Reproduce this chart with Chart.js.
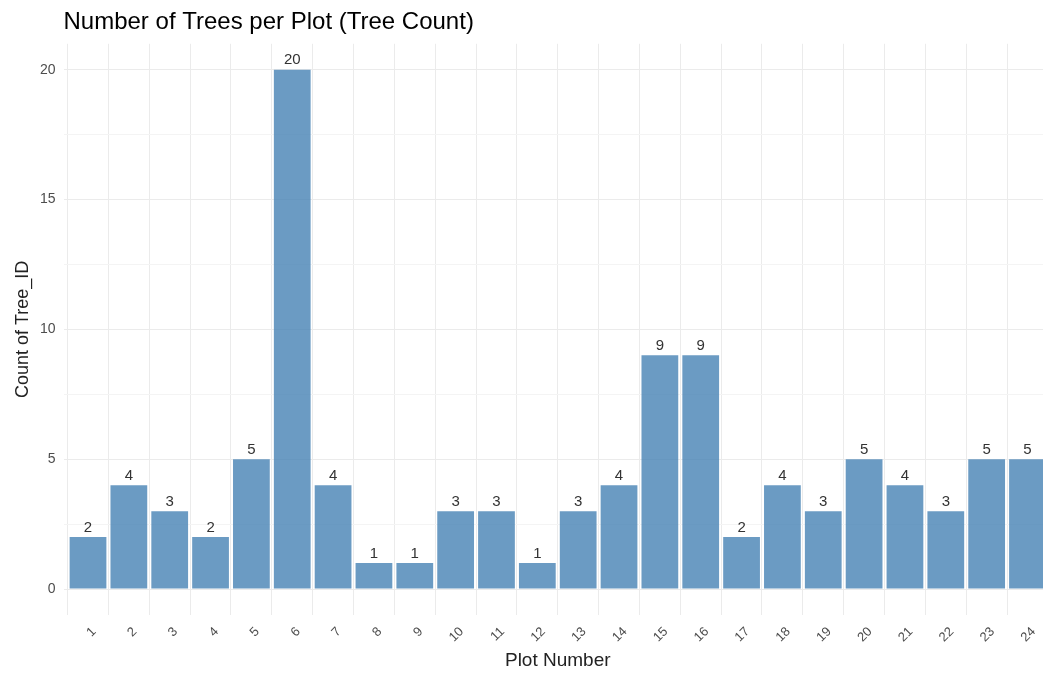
<!DOCTYPE html>
<html>
<head>
<meta charset="utf-8">
<script src="https://cdn.jsdelivr.net/npm/chart.js@4.4.1/dist/chart.umd.min.js"></script>
<style>
  html, body { margin: 0; padding: 0; background: #ffffff; overflow: hidden; }
  #wrap { position: relative; width: 1053px; height: 675px; }
</style>
</head>
<body>
<div id="wrap"><canvas id="c"></canvas></div>
<script>
// ---- data ----
const plotNumbers = [1,2,3,4,5,6,7,8,9,10,11,12,13,14,15,16,17,18,19,20,21,22,23,24];
const treeCounts  = [2,4,3,2,5,20,4,1,1,3,3,1,3,4,9,9,2,4,3,5,4,3,5,5];
const yTickValues = [0, 2.5, 5, 7.5, 10, 12.5, 15, 17.5, 20];
const yTickLabels = ['0', '', '5', '', '10', '', '15', '', '20'];

const FONT = "'Liberation Sans', Arial, sans-serif";

const valueLabels = {
  id: 'valueLabels',
  afterDatasetsDraw(chart) {
    const ctx = chart.ctx;
    const meta = chart.getDatasetMeta(0);
    ctx.save();
    ctx.font = "15px " + FONT;
    ctx.fillStyle = '#333333';
    ctx.textAlign = 'center';
    ctx.textBaseline = 'bottom';
    meta.data.forEach((bar, i) => {
      ctx.fillText(String(treeCounts[i]), bar.x, bar.y - 2);
    });
    ctx.restore();
  }
};

new Chart(document.getElementById('c'), {
  type: 'bar',
  data: {
    datasets: [{
      data: plotNumbers.map((p, i) => ({ x: p, y: treeCounts[i] })),
      backgroundColor: 'rgba(70,130,180,0.8)',
      borderWidth: 0,
      barPercentage: 0.9,
      categoryPercentage: 1.0
    }]
  },
  options: {
    responsive: true,
    maintainAspectRatio: false,
    animation: false,
    layout: { padding: { left: 0, right: 1, top: 0, bottom: 0 } },
    plugins: {
      legend: { display: false },
      tooltip: { enabled: false },
      title: {
        display: true,
        text: 'Number of Trees per Plot (Tree Count)',
        align: 'start',
        fullSize: false,
        color: '#000000',
        font: { family: FONT, size: 24, weight: 'normal' },
        padding: { top: 8, bottom: 7 }
      }
    },
    scales: {
      x: {
        type: 'linear',
        min: 0.4,
        max: 24.6,
        offset: false,
        afterBuildTicks(scale) { scale.ticks = plotNumbers.map(v => ({ value: v })); },
        afterFit(scale) { scale.height = 60; },
        grid: { color: '#ebebeb', lineWidth: 1, drawTicks: false },
        border: { display: false },
        ticks: {
          autoSkip: false,
          minRotation: 45,
          maxRotation: 45,
          padding: 9,
          labelOffset: 6,
          color: '#4d4d4d',
          font: { family: FONT, size: 13 },
          callback: (v) => String(v)
        },
        title: {
          display: true,
          text: 'Plot Number',
          color: '#222222',
          font: { family: FONT, size: 19 },
          padding: { top: 2, bottom: 3 }
        }
      },
      y: {
        min: -1,
        max: 21,
        afterBuildTicks(scale) { scale.ticks = yTickValues.map(v => ({ value: v })); },
        afterFit(scale) { scale.width = 63.5; },
        grid: {
          drawTicks: false,
          color: (c) => (c.tick && c.tick.value % 5 === 0) ? '#ebebeb' : '#f4f4f4',
          lineWidth: 1
        },
        border: { display: false },
        ticks: {
          padding: 8,
          color: '#4d4d4d',
          font: { family: FONT, size: 14 },
          callback: (v, i) => yTickLabels[i]
        },
        title: {
          display: true,
          text: 'Count of Tree_ID',
          color: '#222222',
          font: { family: FONT, size: 18 },
          padding: { top: 12, bottom: 0 }
        }
      }
    }
  },
  plugins: [valueLabels]
});
</script>
</body>
</html>
